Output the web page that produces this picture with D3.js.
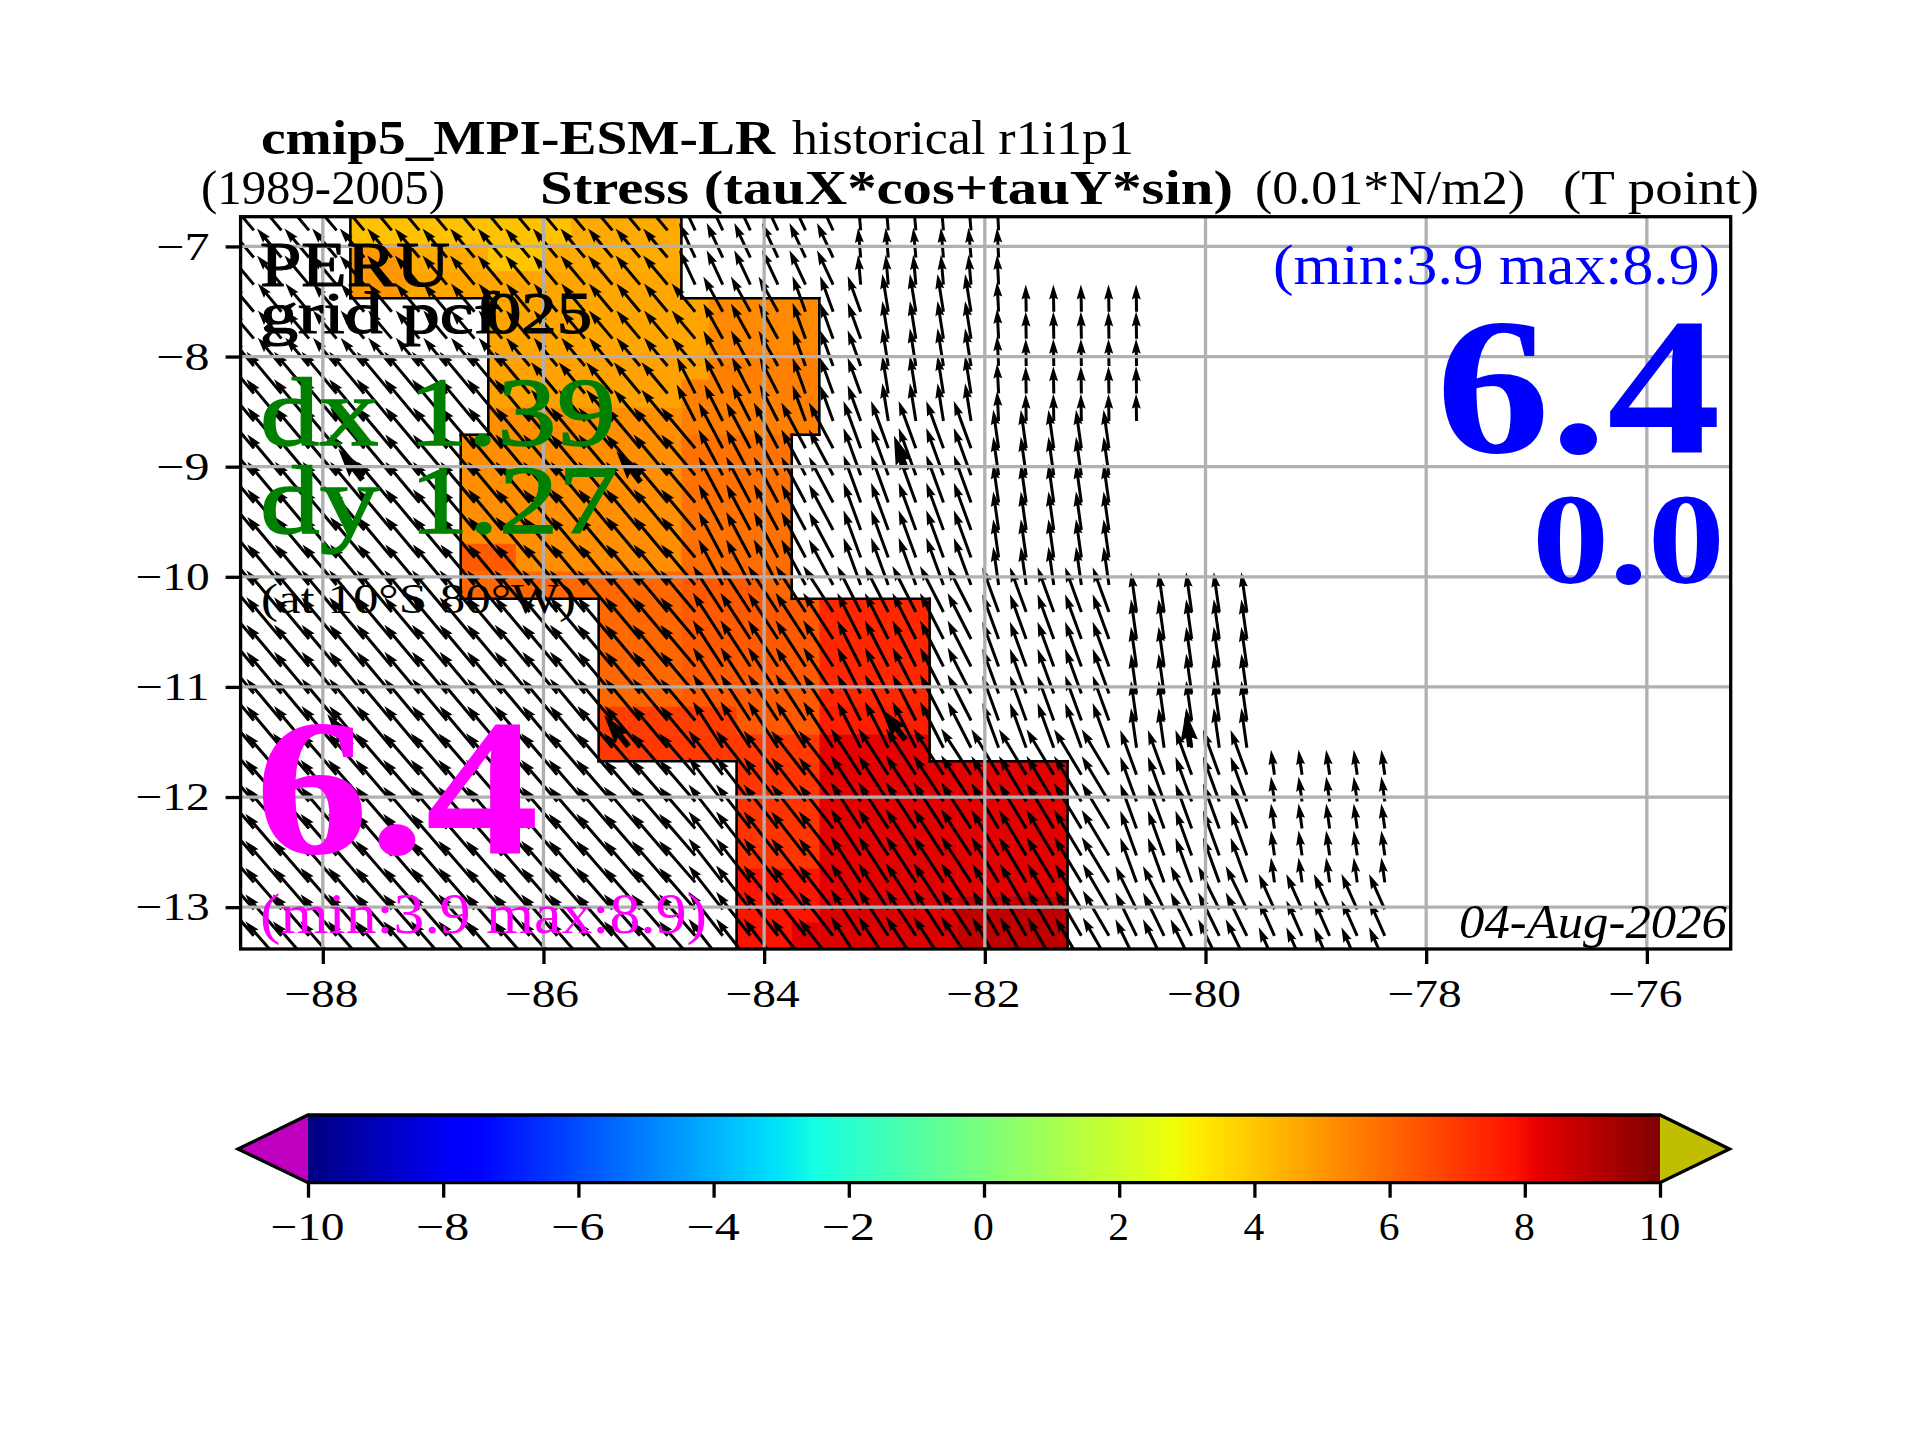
<!DOCTYPE html>
<html>
<head>
<meta charset="utf-8">
<script src="https://cdn.jsdelivr.net/npm/d3@7"></script>
<style>
  body { margin: 0; background: #fff; }
  text { font-family: "Liberation Serif", serif; }
</style>
</head>
<body>
<div id="chart"></div>
<script>
// ---- data ----
const lonTicks = [-88, -86, -84, -82, -80, -78, -76];
const latTicks = [-7, -8, -9, -10, -11, -12, -13];
const colorTicks = [-10, -8, -6, -4, -2, 0, 2, 4, 6, 8, 10];

// row edges of the 0.25 degree grid, top to bottom (last one is below the frame)
const latEdges = [-6.73, -6.978, -7.224, -7.47, -7.715, -7.96, -8.21, -8.46, -8.71, -8.955,
  -9.2, -9.45, -9.7, -9.95, -10.2, -10.44, -10.69, -10.94, -11.18, -11.43, -11.675,
  -11.92, -12.16, -12.41, -12.65, -12.9, -13.14, -13.38, -13.63];

// each row has 12 coloured cells, the west edge jumps from block to block
const blockFirstRow = [0, 3, 8, 14, 20];
const blockWestLon = [-87.75, -86.5, -86.75, -85.5, -84.25];

const stress = [
  [4.1, 4.1, 4.1, 4.1, 4.1, 4.1, 4.1, 4.1, 4.6, 4.6, 4.6, 4.6],
  [5.0, 5.0, 4.6, 4.6, 4.6, 4.0, 4.0, 4.6, 4.6, 4.6, 4.6, 4.6],
  [5.0, 5.0, 4.7, 4.7, 4.7, 4.7, 4.7, 4.7, 4.7, 4.7, 4.7, 4.7],
  [4.7, 4.7, 4.7, 4.7, 4.7, 4.7, 4.7, 4.7, 5.3, 5.3, 5.3, 5.3],
  [4.7, 4.7, 4.7, 4.7, 4.7, 4.7, 4.7, 4.7, 5.3, 5.3, 5.3, 5.3],
  [4.8, 4.8, 4.8, 4.8, 4.8, 4.8, 4.8, 4.8, 5.5, 5.5, 5.5, 5.5],
  [4.8, 4.8, 4.8, 4.8, 4.8, 4.8, 4.8, 5.5, 5.5, 5.5, 5.5, 5.5],
  [5.2, 5.2, 5.2, 5.2, 5.2, 5.2, 5.2, 5.5, 5.5, 5.5, 5.5, 5.5],
  [5.2, 5.2, 5.2, 5.2, 5.2, 5.2, 5.2, 5.2, 5.8, 5.8, 5.8, 5.8],
  [5.2, 5.2, 5.2, 5.2, 5.2, 5.2, 5.2, 5.2, 5.8, 5.8, 5.8, 5.8],
  [5.2, 5.2, 5.2, 5.2, 5.2, 5.2, 5.2, 5.2, 5.8, 5.8, 5.8, 5.8],
  [5.2, 5.2, 5.2, 5.2, 5.2, 5.2, 5.2, 5.2, 5.8, 5.8, 5.8, 5.8],
  [6.3, 6.3, 5.2, 5.2, 5.2, 5.2, 5.2, 5.2, 5.9, 5.9, 5.9, 5.9],
  [6.0, 6.0, 6.0, 6.0, 6.0, 6.0, 6.0, 6.0, 6.3, 6.3, 6.3, 6.0],
  [6.0, 6.0, 6.0, 6.3, 6.3, 6.3, 6.3, 6.3, 7.4, 7.4, 7.4, 7.4],
  [6.0, 6.0, 6.0, 6.3, 6.3, 6.3, 6.3, 6.3, 7.4, 7.4, 7.4, 7.4],
  [6.0, 6.0, 6.0, 6.3, 6.3, 6.3, 6.3, 6.3, 7.4, 7.4, 7.4, 7.4],
  [6.0, 6.0, 6.0, 6.3, 6.3, 6.3, 6.3, 6.3, 7.4, 7.4, 7.4, 7.4],
  [6.9, 6.9, 6.9, 6.9, 6.9, 6.3, 6.3, 6.3, 7.6, 7.6, 7.6, 7.6],
  [7.0, 7.0, 7.0, 7.0, 7.0, 7.0, 7.0, 7.0, 8.2, 8.2, 8.2, 8.2],
  [7.1, 7.1, 7.1, 8.3, 8.3, 8.3, 8.3, 8.3, 8.3, 8.3, 8.3, 8.3],
  [7.1, 7.1, 7.1, 8.3, 8.3, 8.3, 8.3, 8.3, 8.3, 8.3, 8.3, 8.3],
  [7.1, 7.1, 7.1, 8.3, 8.3, 8.3, 8.3, 8.3, 8.3, 8.3, 8.3, 8.3],
  [7.1, 7.1, 7.1, 8.3, 8.3, 8.3, 8.3, 8.3, 8.3, 8.3, 8.3, 8.3],
  [7.8, 7.8, 7.8, 8.3, 8.3, 8.3, 8.3, 8.3, 8.3, 8.3, 8.3, 8.3],
  [7.8, 7.8, 7.8, 8.4, 8.4, 8.4, 8.4, 8.4, 8.9, 8.9, 8.9, 8.9],
  [7.8, 7.8, 8.3, 8.4, 8.4, 8.4, 8.4, 8.4, 8.9, 8.9, 8.9, 8.9]
];

// arrows: first column sits at this longitude, then every 0.25 degree
const arrowWestLon = -88.625;
const arrowBlockFirstRow = [0, 3, 6, 8, 14, 20, 25];
// tilt from north in degrees and length, one list per block, west to east
const tiltA = [-40, -40, -40, -40, -40, -40, -40, -40, -40, -40, -40, -40, -40, -40, -40, -40, -25, -25, -25, -25, -25, -25, -5, -5, -5, -5, -5, -3];
const magA = [5.6, 5.6, 5.6, 5.6, 5.6, 5.6, 5.6, 5.6, 5.6, 5.6, 5.6, 5.6, 5.6, 5.6, 5.6, 5.6, 5.6, 5.6, 5.6, 5.6, 5.6, 5.6, 4.4, 4.4, 4.4, 4.4, 4.4, 4.4];
const tiltB = [-40, -40, -40, -40, -40, -40, -40, -40, -40, -40, -40, -40, -40, -40, -40, -40, -40, -29, -29, -29, -20, -20, -20, -9, -9, -9, -9, -3, -1, -1, -1, -1, -1];
const magB = [5.4, 5.4, 5.4, 5.4, 5.4, 5.4, 5.4, 5.4, 5.4, 5.4, 5.4, 5.4, 5.4, 5.4, 5.4, 5.4, 5.4, 5.9, 5.9, 5.9, 5.6, 5.6, 5.6, 5.6, 5.6, 5.6, 5.6, 4.4, 4.0, 4.0, 4.0, 4.0, 4.0];
const tiltB2 = [-40, -40, -40, -40, -40, -40, -40, -40, -40, -40, -40, -40, -40, -40, -40, -40, -27, -27, -27, -27, -20, -20, -20, -9, -9, -9, -9, -3, -1, -1, -1, -1, -1];
const magB2 = [8.0, 8.0, 8.0, 8.0, 8.0, 8.0, 8.0, 8.0, 8.0, 8.0, 8.0, 6.0, 6.0, 6.0, 6.0, 6.0, 6.0, 6.0, 6.0, 6.0, 5.6, 5.6, 5.6, 5.6, 5.6, 5.6, 5.6, 4.4, 4.0, 4.0, 4.0, 4.0, 4.0];
const tiltC = [-40, -40, -40, -40, -40, -40, -40, -40, -40, -40, -40, -40, -40, -40, -40, -40, -40, -28, -28, -28, -28, -28, -20, -20, -20, -20, -20, -8, -8, -8, -8, -8];
const magC = [7.8, 7.8, 7.8, 7.8, 7.8, 7.8, 7.8, 7.8, 7.8, 7.8, 7.8, 7.8, 7.8, 7.8, 7.8, 7.8, 7.8, 7.6, 7.6, 7.6, 7.6, 7.6, 7.4, 7.4, 7.4, 7.4, 7.4, 5.7, 5.7, 5.7, 5.7, 5.7];
const tiltD = [-40, -40, -40, -40, -40, -40, -40, -40, -40, -40, -40, -40, -40, -40, -40, -40, -40, -33, -33, -33, -33, -33, -27, -27, -27, -27, -27, -20, -20, -20, -20, -20, -8, -8, -8, -8, -8];
const magD = [8.0, 8.0, 8.0, 8.0, 8.0, 8.0, 8.0, 8.0, 8.0, 8.0, 8.0, 8.0, 8.0, 8.0, 8.0, 8.0, 8.0, 8.1, 8.1, 8.1, 8.1, 8.1, 7.6, 7.6, 7.6, 7.6, 7.6, 7.0, 7.0, 7.0, 7.0, 7.0, 5.9, 5.9, 5.9, 5.9, 5.9];
const tiltE = [-41, -41, -41, -41, -41, -41, -41, -41, -41, -41, -41, -41, -41, -41, -41, -41, -41, -38, -38, -38, -38, -38, -33, -33, -33, -33, -33, -31, -31, -31, -31, -31, -20, -20, -20, -20, -20, -8, -8, -8, -8, -8];
const magE = [8.1, 8.1, 8.1, 8.1, 8.1, 8.1, 8.1, 8.1, 8.1, 8.1, 8.1, 8.1, 8.1, 8.1, 8.1, 8.1, 8.1, 8.2, 8.2, 8.2, 8.2, 8.2, 8.1, 8.1, 8.1, 8.1, 8.1, 7.8, 7.8, 7.8, 7.8, 7.8, 7.0, 7.0, 7.0, 7.0, 7.0, 3.7, 3.7, 3.7, 3.7, 3.7];
const tiltF = [-41, -41, -41, -41, -41, -41, -41, -41, -41, -41, -41, -41, -41, -41, -41, -41, -41, -38, -38, -38, -38, -38, -33, -33, -33, -33, -33, -30, -30, -30, -30, -30, -26, -26, -26, -26, -26, -24, -24, -24, -24, -24];
const magF = [8.1, 8.1, 8.1, 8.1, 8.1, 8.1, 8.1, 8.1, 8.1, 8.1, 8.1, 8.1, 8.1, 8.1, 8.1, 8.1, 8.1, 8.2, 8.2, 8.2, 8.2, 8.2, 8.1, 8.1, 8.1, 8.1, 8.1, 7.7, 7.7, 7.7, 7.7, 7.7, 7.1, 7.1, 7.1, 7.1, 7.1, 5.7, 5.7, 5.7, 5.7, 5.7];
const tiltByBlock = [tiltA, tiltB, tiltB2, tiltC, tiltD, tiltE, tiltF];
const magByBlock = [magA, magB, magB2, magC, magD, magE, magF];

// the few arrows drawn twice as thick
const bigLon = [-87.64, -85.12, -82.71, -87.74, -85.23, -82.72, -80.14];
const bigLat = [-9.12, -9.14, -9.03, -11.53, -11.54, -11.48, -11.545];
const bigTilt = [-38, -38, -20, -38, -38, -38, -7];
const bigMag = [5.8, 5.8, 5.4, 5.8, 5.8, 5.8, 5.2];

// ---- layout ----
const svg = d3.select("#chart").append("svg").attr("width", 1920).attr("height", 1440);
svg.append("rect").attr("width", 1920).attr("height", 1440).attr("fill", "#fff");

const x = d3.scaleLinear().domain([-88.745, -75.24]).range([240.6, 1730.7]);
const y = d3.scaleLinear().domain([-6.73, -13.38]).range([216.7, 949]);
const arrowLen = d3.scaleLinear().domain([0, 10]).range([0, 68]);

// jet colormap, same control points as matplotlib
const jetR = d3.scaleLinear().domain([0, 0.35, 0.66, 0.89, 1]).range([0, 0, 1, 1, 0.5]);
const jetG = d3.scaleLinear().domain([0, 0.125, 0.375, 0.64, 0.91, 1]).range([0, 0, 1, 1, 0, 0]);
const jetB = d3.scaleLinear().domain([0, 0.11, 0.34, 0.65, 1]).range([0.5, 1, 1, 0, 0]);
const toUnit = d3.scaleLinear().domain([-10, 10]).range([0, 1]);
function jet(v) {
  const t = toUnit(v);
  return d3.rgb(jetR(t) * 255, jetG(t) * 255, jetB(t) * 255).formatHex();
}

function blockOfRow(r, firstRows) {
  return d3.bisectRight(firstRows, r) - 1;
}

svg.append("defs").append("clipPath").attr("id", "plotClip").append("rect")
  .attr("x", x.range()[0]).attr("y", y.range()[0])
  .attr("width", x.range()[1] - x.range()[0]).attr("height", y.range()[1] - y.range()[0]);

const plot = svg.append("g").attr("clip-path", "url(#plotClip)");

// coloured cells
const cells = [];
stress.forEach((vals, r) => {
  const west = blockWestLon[blockOfRow(r, blockFirstRow)];
  vals.forEach((v, c) => cells.push({ r, c, v, lon0: west + c * 0.25, lon1: west + (c + 1) * 0.25 }));
});
plot.append("g").selectAll("rect").data(cells).enter().append("rect")
  .attr("x", d => x(d.lon0))
  .attr("y", d => y(latEdges[d.r]))
  .attr("width", d => x(d.lon1) - x(d.lon0) + 0.5)
  .attr("height", d => y(latEdges[d.r + 1]) - y(latEdges[d.r]) + 0.5)
  .attr("fill", d => jet(d.v));

// outline of the coloured area, one west/east side per row and the steps between blocks
const outline = [];
blockFirstRow.forEach((r0, b) => {
  const r1 = b + 1 < blockFirstRow.length ? blockFirstRow[b + 1] : stress.length;
  const w = blockWestLon[b];
  outline.push([w, latEdges[r0], w, latEdges[r1]]);
  outline.push([w + 3, latEdges[r0], w + 3, latEdges[r1]]);
  if (b > 0) {
    const wp = blockWestLon[b - 1];
    outline.push([Math.min(w, wp), latEdges[r0], Math.max(w, wp), latEdges[r0]]);
    outline.push([Math.min(w, wp) + 3, latEdges[r0], Math.max(w, wp) + 3, latEdges[r0]]);
  }
});
plot.append("g").selectAll("line").data(outline).enter().append("line")
  .attr("x1", d => x(d[0])).attr("y1", d => y(d[1]))
  .attr("x2", d => x(d[2])).attr("y2", d => y(d[3]))
  .attr("stroke", "#000").attr("stroke-width", 2.6).attr("stroke-linecap", "square");

// quiver arrows, pointing up before rotation, tail at the origin
function arrowShape(len, w) {
  const hw = 1.5 * w, hl = 5 * w, ha = 4.5 * w;
  const pts = [[-w / 2, 0], [-w / 2, -(len - ha)], [-hw, -(len - hl)], [0, -len], [hw, -(len - hl)], [w / 2, -(len - ha)], [w / 2, 0]];
  return d3.line()(pts) + "Z";
}

const arrows = [];
d3.range(latEdges.length - 1).forEach(r => {
  const b = blockOfRow(r, arrowBlockFirstRow);
  const lat = (latEdges[r] + latEdges[r + 1]) / 2;
  tiltByBlock[b].forEach((tilt, k) => {
    arrows.push({ lon: arrowWestLon + k * 0.25, lat, tilt, mag: magByBlock[b][k], w: 3.0 });
  });
});
bigLon.forEach((lon, i) => arrows.push({ lon, lat: bigLat[i], tilt: bigTilt[i], mag: bigMag[i], w: 5.8 }));

plot.append("g").selectAll("path").data(arrows).enter().append("path")
  .attr("transform", d => `translate(${x(d.lon)},${y(d.lat)}) rotate(${d.tilt})`)
  .attr("d", d => arrowShape(arrowLen(d.mag), d.w))
  .attr("fill", "#000");

// grid above the arrows
plot.append("g").selectAll("line").data(lonTicks).enter().append("line")
  .attr("x1", d => x(d)).attr("x2", d => x(d))
  .attr("y1", y.range()[0]).attr("y2", y.range()[1])
  .attr("stroke", "#b0b0b0").attr("stroke-width", 3.3);
plot.append("g").selectAll("line").data(latTicks).enter().append("line")
  .attr("y1", d => y(d)).attr("y2", d => y(d))
  .attr("x1", x.range()[0]).attr("x2", x.range()[1])
  .attr("stroke", "#b0b0b0").attr("stroke-width", 3.3);

// frame
svg.append("rect")
  .attr("x", x.range()[0]).attr("y", y.range()[0])
  .attr("width", x.range()[1] - x.range()[0]).attr("height", y.range()[1] - y.range()[0])
  .attr("fill", "none").attr("stroke", "#000").attr("stroke-width", 3.3);

// axes
const tickFont = 40;
function styleAxis(g, dx) {
  g.select(".domain").remove();
  g.selectAll(".tick line").attr("stroke", "#000").attr("stroke-width", 3.3);
  g.selectAll(".tick text")
    .attr("dx", dx)
    .style("font-size", tickFont + "px")
    .style("font-family", '"Liberation Serif", serif')
    .attr("lengthAdjust", "spacingAndGlyphs")
    .attr("textLength", d => (Math.abs(d) >= 10 ? 2 : 1) * 20.8 + (d < 0 ? 32.5 : 0));
}

const xAxisG = svg.append("g").attr("transform", `translate(0,${y.range()[1]})`)
  .call(d3.axisBottom(x).tickValues(lonTicks).tickSize(15).tickPadding(15));
styleAxis(xAxisG, -2);

const yAxisG = svg.append("g").attr("transform", `translate(${x.range()[0]},0)`)
  .call(d3.axisLeft(y).tickValues(latTicks).tickFormat(d3.format("d")).tickSize(15).tickPadding(16));
styleAxis(yAxisG, 0);

// colour bar
const barTop = 1115, barBottom = 1182.7, barMid = 1149;
const cbar = d3.scaleLinear().domain([-10, 10]).range([308, 1660]);
const cbarSteps = d3.range(-10, 10, 0.05);
svg.append("g").attr("shape-rendering", "crispEdges").selectAll("rect").data(cbarSteps).enter().append("rect")
  .attr("x", d => cbar(d)).attr("y", barTop)
  .attr("width", cbar(0.05) - cbar(0) + 1).attr("height", barBottom - barTop)
  .attr("fill", d => jet(d + 0.025));
svg.append("polygon")
  .attr("points", [[cbar(-10), barTop], [238, barMid], [cbar(-10), barBottom]].join(" "))
  .attr("fill", "#bf00bf");
svg.append("polygon")
  .attr("points", [[cbar(10), barTop], [1729.5, barMid], [cbar(10), barBottom]].join(" "))
  .attr("fill", "#bfbf00");
svg.append("polygon")
  .attr("points", [[cbar(-10), barTop], [cbar(10), barTop], [1729.5, barMid], [cbar(10), barBottom], [cbar(-10), barBottom], [238, barMid]].join(" "))
  .attr("fill", "none").attr("stroke", "#000").attr("stroke-width", 3.3);
const cbarAxisG = svg.append("g").attr("transform", `translate(0,${barBottom})`)
  .call(d3.axisBottom(cbar).tickValues(colorTicks).tickFormat(d3.format("d")).tickSize(15).tickPadding(14));
styleAxis(cbarAxisG, -1);

// texts, x0 and x1 are the measured ends of each string
function label(str, x0, x1, base, size, color, weight, style, stroke) {
  const t = svg.append("text").text(str)
    .attr("x", x0).attr("y", base)
    .attr("textLength", x1 - x0).attr("lengthAdjust", "spacingAndGlyphs")
    .style("font-size", size + "px")
    .attr("fill", color || "#000");
  if (weight) t.style("font-weight", weight);
  if (style) t.style("font-style", style);
  if (stroke) t.attr("stroke", color || "#000").attr("stroke-width", stroke);
  return t;
}

label("cmip5_MPI-ESM-LR", 261, 775, 154, 48, "#000", "bold");
label("historical r1i1p1", 792, 1134, 154, 48);
label("(1989-2005)", 201, 445, 204, 48);
label("Stress (tauX*cos+tauY*sin)", 540, 1233, 204, 48, "#000", "bold");
label("(0.01*N/m2)", 1255, 1525, 204, 48);
label("(T point)", 1563, 1759, 204, 48);

label("PERU", 260, 450, 286, 63, "#000", null, null, 1.2);
label("grid pcf", 260, 499, 333, 60, "#000", null, null, 1.2);
label("025", 486, 592, 333, 60, "#000", null, null, 1.2);
label("dx 1.39", 260, 616, 445, 98, "#008000", null, null, 1.5);
label("dy 1.27", 260, 618, 533, 98, "#008000", null, null, 1.5);
label("(at 10°S 80°W)", 261, 576, 613, 42);

label("6.4", 255, 539, 853, 195, "#ff00ff", "bold");
label("(min:3.9 max:8.9)", 260, 707, 933, 56, "#ff00ff");

label("(min:3.9 max:8.9)", 1273, 1720, 284, 56, "#0000ff");
label("6.4", 1436, 1721, 452, 195, "#0000ff", "bold");
label("0.0", 1532, 1725, 583, 130, "#0000ff", "bold");

label("04-Aug-2026", 1459, 1727, 938, 48, "#000", null, "italic");
</script>
</body>
</html>
